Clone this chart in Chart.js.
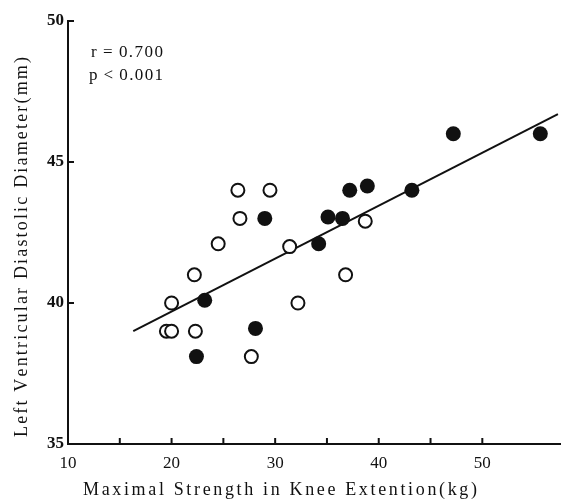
<!DOCTYPE html>
<html>
<head>
<meta charset="utf-8">
<script src="https://cdn.jsdelivr.net/npm/chart.js@4.4.1/dist/chart.umd.min.js"></script>
<style>
  html, body { margin: 0; padding: 0; background: #fff; }
  #wrap { width: 562px; height: 501px; }
</style>
</head>
<body>
<div id="wrap"><canvas id="chart" width="562" height="501"></canvas></div>
<script>
// open circles
const openX = [19.5, 20.0, 20.0, 22.2, 22.3, 24.5, 26.4, 29.5, 26.6, 31.4, 32.2, 27.7, 36.8, 38.7];
const openY = [39.0, 39.0, 40.0, 41.0, 39.0, 42.1, 44.0, 44.0, 43.0, 42.0, 40.0, 38.1, 41.0, 42.9];
// filled circles
const filledX = [23.2, 29.0, 28.1, 22.4, 34.2, 35.1, 36.5, 37.2, 38.9, 43.2, 47.2, 55.6];
const filledY = [40.1, 43.0, 39.1, 38.1, 42.1, 43.05, 43.0, 44.0, 44.15, 44.0, 46.0, 46.0];
// regression line ends
const lineX = [16.3, 57.3];
const lineY = [39.0, 46.7];

const xTickLabels = [10, 20, 30, 40, 50];
const xTickMarks = [10, 15, 20, 25, 30, 35, 40, 45, 50];
const yTickLabels = [35, 40, 45, 50];
const yTickMarks = [40, 45, 50];

const statsText = ['r\u2009=\u20090.700', 'p\u2009<\u20090.001'];
const xTitle = 'Maximal Strength in Knee Extention(kg)';
const yTitle = 'Left Ventricular Diastolic Diameter(mm)';

const SERIF = '"Liberation Serif", "DejaVu Serif", serif';
const INK = '#111';

function toPoints(xs, ys) {
  return xs.map((x, i) => ({ x: x, y: ys[i] }));
}

// draw text spread out to a given width, centred on cx
function spacedText(ctx, text, cx, cy, width) {
  const chars = text.split('');
  const widths = chars.map(c => ctx.measureText(c).width);
  const total = widths.reduce((a, b) => a + b, 0);
  const gap = chars.length > 1 ? (width - total) / (chars.length - 1) : 0;
  let x = cx - width / 2;
  ctx.textAlign = 'left';
  ctx.textBaseline = 'middle';
  chars.forEach((c, i) => {
    ctx.fillText(c, x, cy);
    x += widths[i] + gap;
  });
}

const decorations = {
  id: 'decorations',
  afterDraw(chart) {
    const ctx = chart.ctx;
    const xs = chart.scales.x, ys = chart.scales.y;
    const area = chart.chartArea;
    ctx.save();
    ctx.strokeStyle = INK;
    ctx.lineWidth = 2;
    // inward tick marks
    xTickMarks.forEach(v => {
      const px = xs.getPixelForValue(v);
      ctx.beginPath();
      ctx.moveTo(px, area.bottom);
      ctx.lineTo(px, area.bottom - 6);
      ctx.stroke();
    });
    yTickMarks.forEach(v => {
      const py = ys.getPixelForValue(v);
      ctx.beginPath();
      ctx.moveTo(area.left, py);
      ctx.lineTo(area.left + 6, py);
      ctx.stroke();
    });
    ctx.fillStyle = INK;
    // stats
    ctx.font = '17px ' + SERIF;
    spacedText(ctx, statsText[0], 127, 53, 72);
    spacedText(ctx, statsText[1], 126, 76, 74);
    // axis titles
    ctx.font = '18px ' + SERIF;
    spacedText(ctx, xTitle, 280, 490, 394);
    ctx.translate(22, 247);
    ctx.rotate(-Math.PI / 2);
    spacedText(ctx, yTitle, 0, 0, 380);
    ctx.restore();
  }
};

new Chart(document.getElementById('chart'), {
  type: 'scatter',
  data: {
    datasets: [
      {
        type: 'line',
        data: toPoints(lineX, lineY),
        borderColor: INK,
        borderWidth: 2,
        pointRadius: 0,
        fill: false,
        order: 3
      },
      {
        data: toPoints(openX, openY),
        pointRadius: 6.5,
        pointBorderWidth: 2,
        pointBackgroundColor: '#fff',
        pointBorderColor: INK,
        order: 1
      },
      {
        data: toPoints(filledX, filledY),
        pointRadius: 7.5,
        pointBorderWidth: 0,
        pointBackgroundColor: INK,
        pointBorderColor: INK,
        order: 2
      }
    ]
  },
  options: {
    responsive: false,
    animation: false,
    layout: { autoPadding: false, padding: { left: 0, right: 2, top: 21, bottom: 0 } },
    plugins: {
      legend: { display: false },
      tooltip: { enabled: false }
    },
    scales: {
      x: {
        type: 'linear',
        min: 10,
        max: 57.5,
        afterBuildTicks: s => { s.ticks = xTickLabels.map(v => ({ value: v })); },
        afterFit: s => { s.height = 57; s.paddingLeft = 0; s.paddingRight = 0; },
        grid: { display: true, drawOnChartArea: false, drawTicks: false },
        border: { display: true, color: INK, width: 2 },
        ticks: {
          color: INK,
          padding: 9,
          maxRotation: 0,
          autoSkip: false,
          font: { family: SERIF, size: 17 }
        }
      },
      y: {
        type: 'linear',
        min: 35,
        max: 50,
        afterBuildTicks: s => { s.ticks = yTickLabels.map(v => ({ value: v })); },
        afterFit: s => { s.width = 68; },
        grid: { display: true, drawOnChartArea: false, drawTicks: false },
        border: { display: true, color: INK, width: 2 },
        ticks: {
          color: INK,
          padding: 4,
          font: { family: SERIF, size: 17, weight: 'bold' }
        }
      }
    }
  },
  plugins: [decorations]
});
</script>
</body>
</html>
